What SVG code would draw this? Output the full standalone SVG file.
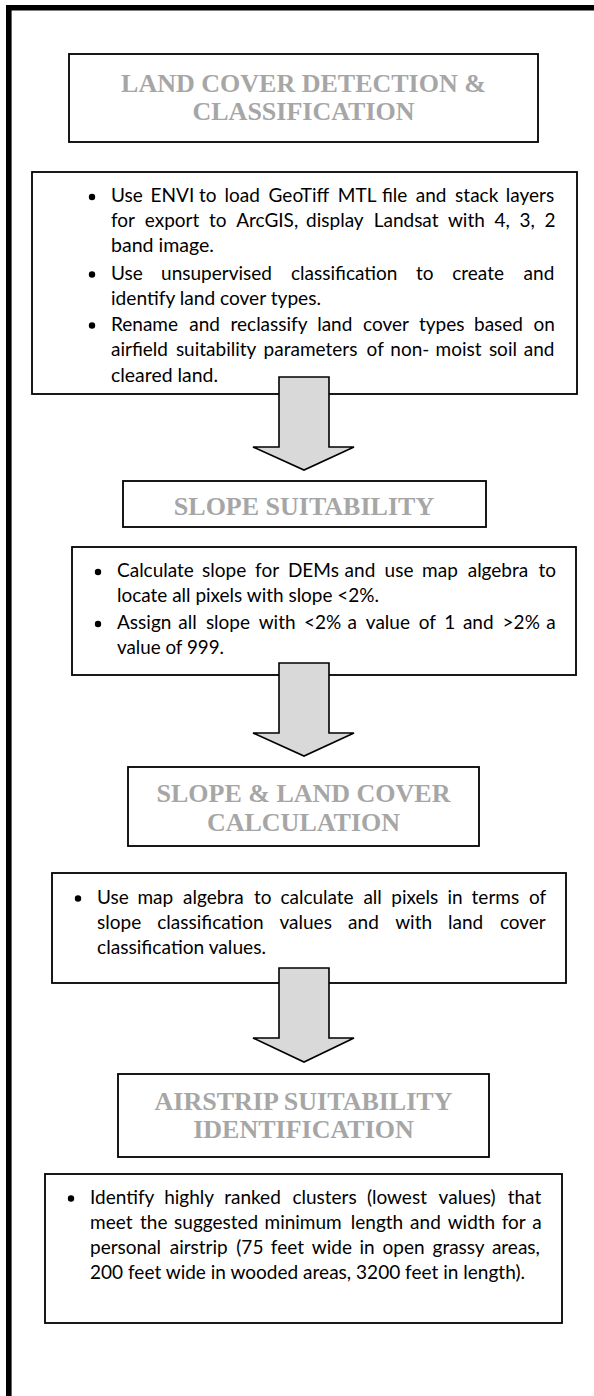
<svg xmlns="http://www.w3.org/2000/svg" width="594" height="1396" viewBox="0 0 594 1396">
<style>
.box{fill:#fff;stroke:#000;stroke-width:1.8}
.ttl{font-family:"Liberation Serif","Times New Roman",serif;font-weight:bold;font-size:26px;fill:#A6A6A6;text-anchor:middle}
.txt{font-family:Lato,"Liberation Sans",sans-serif;font-size:19px;fill:#000}
.bul{fill:#000}
.arrow{fill:#D9D9D9;stroke:#000;stroke-width:1.6;stroke-linejoin:miter}
</style>
<rect x="0" y="0" width="594" height="1396" fill="#fff"/>
<path d="M8.8,1400 V7.8 H600" fill="none" stroke="#000" stroke-width="5.6"/>

<g id="node-land-cover-title">
<rect class="box" x="69" y="54" width="469" height="88"/>
<text class="ttl" x="303.5" y="92">LAND COVER DETECTION &amp;</text>
<text class="ttl" x="303.5" y="120">CLASSIFICATION</text>
</g>

<g id="node-land-cover-steps">
<rect class="box" x="32" y="172" width="545" height="222"/>
<circle class="bul" cx="92" cy="197" r="3.2"/>
<circle class="bul" cx="92" cy="274.5" r="3.2"/>
<circle class="bul" cx="92" cy="325.5" r="3.2"/>
<text class="txt" y="202"><tspan x="111">Use</tspan><tspan x="150.6">ENVI</tspan><tspan x="198.9">to</tspan><tspan x="224.6">load</tspan><tspan x="268.6">GeoTiff</tspan><tspan x="337.8">MTL</tspan><tspan x="381.9">file</tspan><tspan x="415.7">and</tspan><tspan x="455.1">stack</tspan><tspan x="505.8">layers</tspan></text>
<text class="txt" y="227"><tspan x="111">for</tspan><tspan x="144.8">export</tspan><tspan x="209">to</tspan><tspan x="236.2">ArcGIS,</tspan><tspan x="306.1">display</tspan><tspan x="373.7">Landsat</tspan><tspan x="447.9">with</tspan><tspan x="494.5">4,</tspan><tspan x="519.6">3,</tspan><tspan x="544.6">2</tspan></text>
<text class="txt" x="111" y="252" textLength="103" lengthAdjust="spacingAndGlyphs">band image.</text>
<text class="txt" y="279.5"><tspan x="111">Use</tspan><tspan x="161.1">unsupervised</tspan><tspan x="291">classification</tspan><tspan x="416">to</tspan><tspan x="452.2">create</tspan><tspan x="523.6">and</tspan></text>
<text class="txt" x="111" y="305" textLength="210" lengthAdjust="spacingAndGlyphs">identify land cover types.</text>
<text class="txt" y="330.5"><tspan x="111">Rename</tspan><tspan x="189.3">and</tspan><tspan x="230.5">reclassify</tspan><tspan x="317.2">land</tspan><tspan x="363.1">cover</tspan><tspan x="419">types</tspan><tspan x="474">based</tspan><tspan x="533.4">on</tspan></text>
<text class="txt" y="356"><tspan x="111">airfield</tspan><tspan x="175.9">suitability</tspan><tspan x="263.6">parameters</tspan><tspan x="366.6">of</tspan><tspan x="390.3">non-</tspan><tspan x="435.5">moist</tspan><tspan x="488.9">soil</tspan><tspan x="523.7">and</tspan></text>
<text class="txt" x="111" y="381.5" textLength="107" lengthAdjust="spacingAndGlyphs">cleared land.</text>
</g>

<g id="node-slope-title">
<rect class="box" x="123" y="481" width="363" height="46"/>
<text class="ttl" x="304" y="515">SLOPE SUITABILITY</text>
</g>

<g id="node-slope-steps">
<rect class="box" x="72" y="547" width="504" height="128"/>
<circle class="bul" cx="98" cy="572" r="3.2"/>
<circle class="bul" cx="98" cy="624" r="3.2"/>
<text class="txt" y="577"><tspan x="117">Calculate</tspan><tspan x="202">slope</tspan><tspan x="255.1">for</tspan><tspan x="287.9">DEMs</tspan><tspan x="344.6">and</tspan><tspan x="384.6">use</tspan><tspan x="422.1">map</tspan><tspan x="467.7">algebra</tspan><tspan x="538.4">to</tspan></text>
<text class="txt" x="117" y="602" textLength="262" lengthAdjust="spacingAndGlyphs">locate all pixels with slope &lt;2%.</text>
<text class="txt" y="629"><tspan x="117">Assign</tspan><tspan x="178.3">all</tspan><tspan x="205.9">slope</tspan><tspan x="258.7">with</tspan><tspan x="304">&lt;2%</tspan><tspan x="347.6">a</tspan><tspan x="365.8">value</tspan><tspan x="418.8">of</tspan><tspan x="444.2">1</tspan><tspan x="462.9">and</tspan><tspan x="502.6">&gt;2%</tspan><tspan x="546.2">a</tspan></text>
<text class="txt" x="117" y="654" textLength="107" lengthAdjust="spacingAndGlyphs">value of 999.</text>
</g>

<g id="node-calc-title">
<rect class="box" x="128" y="767" width="351" height="79"/>
<text class="ttl" x="303.5" y="802">SLOPE &amp; LAND COVER</text>
<text class="ttl" x="303.5" y="830.5">CALCULATION</text>
</g>

<g id="node-calc-steps">
<rect class="box" x="52" y="873" width="514" height="110"/>
<circle class="bul" cx="78" cy="898.5" r="3.2"/>
<text class="txt" y="903.5"><tspan x="97">Use</tspan><tspan x="137.4">map</tspan><tspan x="183.1">algebra</tspan><tspan x="254">to</tspan><tspan x="280.4">calculate</tspan><tspan x="363.4">all</tspan><tspan x="391.3">pixels</tspan><tspan x="447.4">in</tspan><tspan x="471.6">terms</tspan><tspan x="529">of</tspan></text>
<text class="txt" y="928.5"><tspan x="97">slope</tspan><tspan x="157.3">classification</tspan><tspan x="279.5">values</tspan><tspan x="348.1">and</tspan><tspan x="395.2">with</tspan><tspan x="448">land</tspan><tspan x="499.9">cover</tspan></text>
<text class="txt" x="97" y="953.5" textLength="169" lengthAdjust="spacingAndGlyphs">classification values.</text>
</g>

<g id="node-airstrip-title">
<rect class="box" x="118" y="1074" width="371" height="83"/>
<text class="ttl" x="303.5" y="1110">AIRSTRIP SUITABILITY</text>
<text class="ttl" x="303.5" y="1138">IDENTIFICATION</text>
</g>

<g id="node-airstrip-steps">
<rect class="box" x="45" y="1174" width="517" height="149"/>
<circle class="bul" cx="71" cy="1198.5" r="3.2"/>
<text class="txt" y="1203.5"><tspan x="90">Identify</tspan><tspan x="164.2">highly</tspan><tspan x="224.2">ranked</tspan><tspan x="292.4">clusters</tspan><tspan x="366.9">(lowest</tspan><tspan x="438.6">values)</tspan><tspan x="507.7">that</tspan></text>
<text class="txt" y="1228.8"><tspan x="90">meet</tspan><tspan x="140">the</tspan><tspan x="174.1">suggested</tspan><tspan x="264.5">minimum</tspan><tspan x="350.8">length</tspan><tspan x="410.1">and</tspan><tspan x="447.7">width</tspan><tspan x="501.7">for</tspan><tspan x="532.2">a</tspan></text>
<text class="txt" y="1254"><tspan x="90">personal</tspan><tspan x="169.7">airstrip</tspan><tspan x="236.3">(75</tspan><tspan x="270.8">feet</tspan><tspan x="311.8">wide</tspan><tspan x="359.5">in</tspan><tspan x="382.5">open</tspan><tspan x="432.5">grassy</tspan><tspan x="491.9">areas,</tspan></text>
<text class="txt" x="90" y="1279.3" textLength="435" lengthAdjust="spacingAndGlyphs">200 feet wide in wooded areas, 3200 feet in length).</text>
</g>

<g id="connectors">
<path class="arrow" d="M279,377 H329 V447 H354 L304,470 L253,447 H279 Z"/>
<path class="arrow" d="M279,663 H329 V733 H354 L304,756 L253,733 H279 Z"/>
<path class="arrow" d="M279,968 H329 V1038 H354 L304,1062 L253,1038 H279 Z"/>
</g>
</svg>
